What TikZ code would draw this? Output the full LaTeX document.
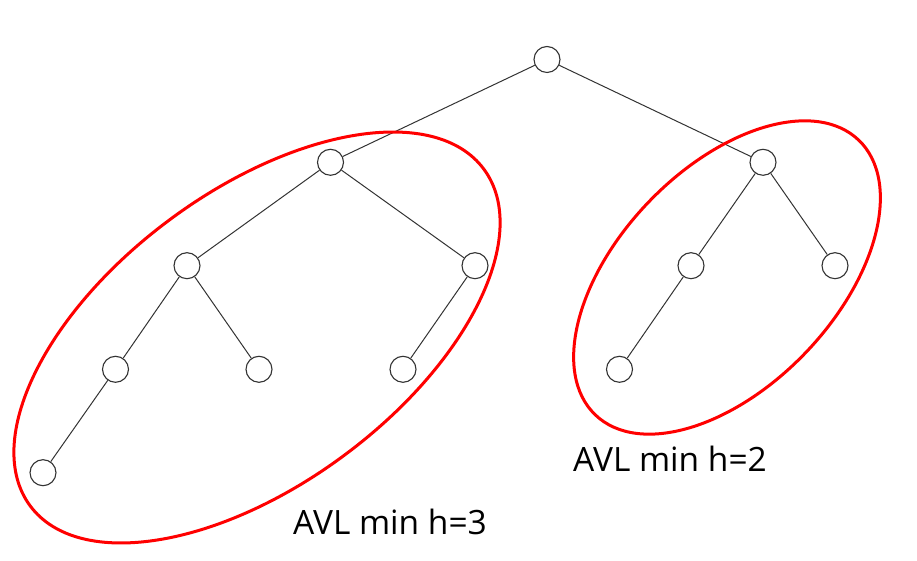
\documentclass[tikz,border=0pt]{standalone}
\usepackage{fontspec}
\setmainfont{Open Sans}
\begin{document}
\begin{tikzpicture}[x=1pt,y=1pt,
  tnode/.style={circle,draw=black!80,line width=1.1pt,minimum size=26pt,inner sep=0pt,fill=white},
  tedge/.style={draw=black!80,line width=1pt},
  ring/.style={draw=red,line width=3pt},
  lbl/.style={anchor=base west,font=\fontsize{33.5}{40}\selectfont,inner sep=0pt}]
\useasboundingbox (0,0) rectangle (917,561);
% nodes
\node[tnode] (root) at (547,501.5) {};
\node[tnode] (L) at (330.5,398.7) {};
\node[tnode] (R) at (763,398.7) {};
\node[tnode] (LL) at (187,295.3) {};
\node[tnode] (LR) at (475,295.3) {};
\node[tnode] (RL) at (691,295.3) {};
\node[tnode] (RR) at (835,295.3) {};
\node[tnode] (LLL) at (115.5,191.7) {};
\node[tnode] (LLR) at (259,191.7) {};
\node[tnode] (LRL) at (403,191.7) {};
\node[tnode] (RLL) at (619.5,191.7) {};
\node[tnode] (LLLL) at (43,88.3) {};
% edges
\draw[tedge] (root) -- (L);
\draw[tedge] (root) -- (R);
\draw[tedge] (L) -- (LL);
\draw[tedge] (L) -- (LR);
\draw[tedge] (LL) -- (LLL);
\draw[tedge] (LL) -- (LLR);
\draw[tedge] (LR) -- (LRL);
\draw[tedge] (LLL) -- (LLLL);
\draw[tedge] (R) -- (RL);
\draw[tedge] (R) -- (RR);
\draw[tedge] (RL) -- (RLL);
% rings
\draw[ring] (257,223.5) ellipse[x radius=282.5,y radius=146.6,rotate=36.6];
\draw[ring] (727,283.5) ellipse[x radius=190.3,y radius=108.8,rotate=46.2];
% labels
\node[lbl] (t3) at (293,26) {AVL min h=3};
\node[lbl] (t2) at (573,89) {AVL min h=2};
\end{tikzpicture}
\end{document}
